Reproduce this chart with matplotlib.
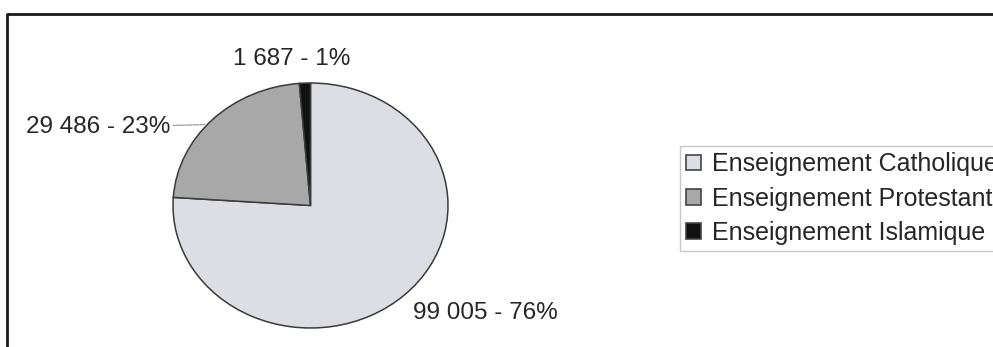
import matplotlib
matplotlib.use("Agg")
import matplotlib.pyplot as plt
from matplotlib.lines import Line2D

plt.rcParams['font.family'] = ['Liberation Sans', 'DejaVu Sans']

categories = ['Enseignement Catholique', 'Enseignement Protestant', 'Enseignement Islamique']
effectifs = [99005, 29486, 1687]
pct_labels = ['99 005 - 76%', '29 486 - 23%', '1 687 - 1%']
colors = ['#dddee3', '#a8a8a8', '#111111']

text_color = '#262626'

fig = plt.figure(figsize=(9.93, 3.47), dpi=100)

# pie axes placed in pixels (scan is a bit stretched horizontally)
W, H = 993, 347
ax = fig.add_axes([173 / W, (H - 328) / H, 275 / W, 245 / H])
wedges, _ = ax.pie(effectifs, colors=colors, startangle=90, counterclock=False,
                   wedgeprops=dict(edgecolor='#3a3a3a', linewidth=1.1))
ax.set_aspect('auto')
ax.set_xlim(-1, 1)
ax.set_ylim(-1, 1)

# data labels
ax.text(0.745, -0.88, pct_labels[0], ha='left', va='center', fontsize=17.5, color=text_color)
ax.annotate(pct_labels[1], xy=(-0.77, 0.66), xytext=(-1.02, 0.64),
            ha='right', va='center', fontsize=17.5, color=text_color,
            arrowprops=dict(arrowstyle='-', color='#888888', lw=0.8, linestyle=(0, (2, 1)),
                            shrinkA=0, shrinkB=0))
ax.text(-0.135, 1.20, pct_labels[2], ha='center', va='center', fontsize=17.5, color=text_color)

# legend, running off the right edge like the scan
leg = fig.legend(wedges, categories, loc='upper left', bbox_to_anchor=(680 / W, 1 - 146 / H),
                 fontsize=18, frameon=True, fancybox=False, edgecolor='#bbbbbb',
                 handlelength=0.6, handleheight=0.6, handletextpad=0.45,
                 labelspacing=0.41, borderpad=0.25, borderaxespad=0)
leg.get_frame().set_linewidth(1.0)
for t in leg.get_texts():
    t.set_color(text_color)
for h in leg.legend_handles:
    h.set_edgecolor('#444444')
    h.set_linewidth(1.2)

# outer frame (top and left edges of the scanned box)
fig.add_artist(Line2D([7 / W, 7 / W, 1.0], [0.0, 1 - 14 / H, 1 - 14 / H],
                      color='#1a1a1a', linewidth=2.0))

fig.savefig('out.png', dpi=100, facecolor='white')
